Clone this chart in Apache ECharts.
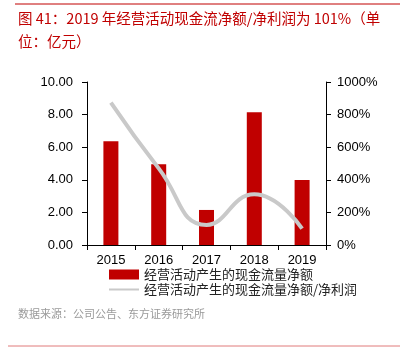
<!DOCTYPE html>
<html>
<head>
<meta charset="utf-8">
<script src="https://cdn.jsdelivr.net/npm/echarts@6/dist/echarts.min.js"></script>
<style>
  html, body { margin: 0; padding: 0; background: #fff; }
  #chart { width: 405px; height: 350px; }
</style>
</head>
<body>
<div id="chart"></div>
<script>
const years = ['2015', '2016', '2017', '2018', '2019']
const cashFlow = [6.36, 4.95, 2.15, 8.14, 3.99]
const cashToProfit = [873, 470, 123, 311, 101]
const seriesNames = ['经营活动产生的现金流量净额', '经营活动产生的现金流量净额/净利润']

const FONT = '"Liberation Sans", Arial, "Noto Sans CJK SC", sans-serif'
const CJK = '"Noto Sans CJK SC", "Liberation Sans", sans-serif'

let myChart = echarts.init(document.getElementById('chart'))
let option = {
  animation: false,
  textStyle: { fontFamily: FONT },
  grid: {
    left: 87,
    right: 79,
    top: 82,
    bottom: 105
  },
  legend: {
    orient: 'vertical',
    left: 103,
    top: 263,
    itemWidth: 30,
    itemHeight: 10,
    itemGap: 2,
    textStyle: {
      fontFamily: CJK,
      fontSize: 13,
      color: '#222'
    },
    data: [
      { name: seriesNames[0], icon: 'rect' },
      { name: seriesNames[1], itemStyle: { opacity: 0 } }
    ]
  },
  xAxis: {
    type: 'category',
    data: years,
    axisLine: { lineStyle: { color: '#000', width: 1 } },
    axisTick: { show: true, length: 5, lineStyle: { color: '#000' } },
    axisLabel: { color: '#000', fontSize: 13, margin: 9, fontFamily: FONT }
  },
  yAxis: [
    {
      type: 'value',
      min: 0,
      max: 10,
      interval: 2,
      axisLine: { show: true, lineStyle: { color: '#000' } },
      axisTick: { show: true, length: 5, lineStyle: { color: '#000' } },
      splitLine: { show: false },
      axisLabel: {
        color: '#000',
        fontSize: 13,
        margin: 14,
        formatter: v => v.toFixed(2)
      }
    },
    {
      type: 'value',
      min: 0,
      max: 1000,
      interval: 200,
      position: 'right',
      axisLine: { show: true, lineStyle: { color: '#000' } },
      axisTick: { show: true, length: 5, lineStyle: { color: '#000' } },
      splitLine: { show: false },
      axisLabel: {
        color: '#000',
        fontSize: 13,
        margin: 11,
        formatter: v => v + '%'
      }
    }
  ],
  series: [
    {
      name: seriesNames[0],
      type: 'bar',
      data: cashFlow,
      barWidth: 15,
      itemStyle: { color: '#c00000' }
    },
    {
      name: seriesNames[1],
      type: 'line',
      yAxisIndex: 1,
      data: cashToProfit,
      smooth: 0.5,
      symbol: 'none',
      lineStyle: { color: '#c9c9c9', width: 4 },
      itemStyle: { color: '#c9c9c9' }
    }
  ],
  graphic: [
    {
      type: 'line',
      shape: { x1: 15, y1: 4, x2: 400, y2: 4 },
      style: { stroke: '#c00000', lineWidth: 1 }
    },
    {
      type: 'text',
      left: 18,
      top: 11,
      style: {
        text: '图 41：2019 年经营活动现金流净额/净利润为 101%（单',
        fill: '#c00000',
        font: '14.5px ' + CJK
      }
    },
    {
      type: 'text',
      left: 18,
      top: 34,
      style: {
        text: '位：亿元）',
        fill: '#c00000',
        font: '14.5px ' + CJK
      }
    },
    {
      type: 'text',
      left: 18,
      top: 308,
      style: {
        text: '数据来源：公司公告、东方证券研究所',
        fill: '#9a9a9a',
        font: '11px ' + CJK
      }
    },
    {
      type: 'line',
      shape: { x1: 8, y1: 346, x2: 400, y2: 346 },
      style: { stroke: '#e07a7a', lineWidth: 1 }
    }
  ]
}
myChart.setOption(option)
</script>
</body>
</html>
